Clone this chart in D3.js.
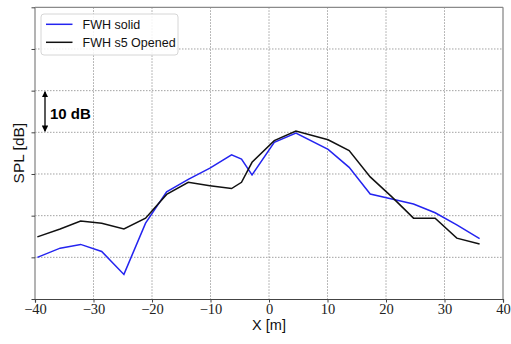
<!DOCTYPE html>
<html><head><meta charset="utf-8">
<script src="https://cdn.jsdelivr.net/npm/d3@7"></script>
<style>body{margin:0;background:#fff}</style>
</head><body>
<svg id="c" width="511" height="344"></svg>
<script>
const xTicks = [-40,-30,-20,-10,0,10,20,30,40];
const yTicks = [0,10,20,30,40,50,60,70];
const xSolid = [-39.6,-35.7,-32.2,-28.6,-24.8,-21.1,-17.5,-13.8,-10.1,-6.4,-4.7,-2.9,0.9,4.6,10.1,13.7,17.3,21.0,24.7,28.4,32.1,36.0];
const ySolid = [10.0,12.2,13.1,11.4,5.9,18.2,25.7,28.7,31.4,34.6,33.6,29.8,37.6,39.8,35.9,31.6,25.2,24.0,22.8,20.7,17.8,14.5];
const xOpened = [-39.6,-35.7,-32.2,-28.6,-24.8,-21.1,-17.5,-13.8,-10.1,-6.4,-4.7,-2.9,0.9,4.6,10.1,13.7,17.3,21.0,24.7,28.4,32.1,36.0];
const yOpened = [14.9,16.8,18.7,18.2,16.8,19.4,25.1,28.0,27.2,26.5,28.0,32.8,38.0,40.3,38.2,35.6,29.3,24.5,19.4,19.4,14.6,13.2];
const seriesNames = ["FWH solid","FWH s5 Opened"];
const seriesColors = ["#2424f0","#111111"];

const svg = d3.select("#c");
const L=35, R=503, T=7.3, B=299;
const x = d3.scaleLinear().domain([-40,40]).range([L,R]);
const y = d3.scaleLinear().domain([0,70]).range([B,T]);

// grid
const g = svg.append("g");
g.selectAll(".vx").data(xTicks.slice(1,-1)).join("line")
  .attr("x1",d=>x(d)).attr("x2",d=>x(d)).attr("y1",T).attr("y2",B)
  .attr("stroke","#999").attr("stroke-width",0.9).attr("stroke-dasharray","1.5,1.5");
g.selectAll(".hy").data(yTicks.slice(1,-1)).join("line")
  .attr("y1",d=>y(d)).attr("y2",d=>y(d)).attr("x1",L).attr("x2",R)
  .attr("stroke","#999").attr("stroke-width",0.9).attr("stroke-dasharray","1.5,1.5");

// spines
svg.append("line").attr("x1",L).attr("x2",R).attr("y1",T).attr("y2",T).attr("stroke","#8a8a8a").attr("stroke-width",1.3);
svg.append("line").attr("x1",R).attr("x2",R).attr("y1",T).attr("y2",B).attr("stroke","#8a8a8a").attr("stroke-width",1.3);
svg.append("line").attr("x1",L).attr("x2",L).attr("y1",T).attr("y2",B).attr("stroke","#8a8a8a").attr("stroke-width",1.3);

// axes
const xAxis = d3.axisBottom(x).tickValues(xTicks).tickSize(3.5).tickFormat(d=>d<0?"\u2212"+Math.abs(d):d);
const gx = svg.append("g").attr("transform",`translate(0,${B})`).call(xAxis);
gx.select(".domain").attr("stroke","#444").attr("stroke-width",1.2);
gx.selectAll(".tick line").attr("stroke","#444");
gx.selectAll("text").attr("font-family","'Liberation Serif', serif").attr("font-size",14.5).attr("fill","#222").attr("dy",null).attr("y",14.5);
const yAxis = d3.axisLeft(y).tickValues(yTicks).tickSize(3.5).tickFormat("");
const gy = svg.append("g").attr("transform",`translate(${L},0)`).call(yAxis);
gy.select(".domain").remove();
gy.selectAll(".tick line").attr("stroke","#444");

// labels
svg.append("text").attr("x",(L+R)/2).attr("y",329.5).attr("text-anchor","middle")
  .attr("font-family","'Liberation Sans', sans-serif").attr("font-size",14.5).attr("fill","#111").text("X [m]");
svg.append("text").attr("transform",`translate(24,${(T+B)/2}) rotate(-90)`).attr("text-anchor","middle")
  .attr("font-family","'Liberation Sans', sans-serif").attr("font-size",15.5).attr("fill","#111").text("SPL [dB]");

// lines
const line = d3.line().x(d=>x(d[0])).y(d=>y(d[1]));
const data = [d3.zip(xSolid,ySolid), d3.zip(xOpened,yOpened)];
svg.selectAll(".ser").data(data).join("path")
  .attr("d",line).attr("fill","none")
  .attr("stroke",(d,i)=>seriesColors[i]).attr("stroke-width",1.5).attr("stroke-linejoin","miter");

// 10 dB arrow
const ax = 45;
svg.append("defs").html('<marker id="ah" viewBox="0 0 10 10" refX="9" refY="5" markerWidth="5" markerHeight="5" orient="auto-start-reverse"><path d="M0,0 L10,5 L0,10 z" fill="#000"/></marker>');
svg.append("line").attr("x1",ax).attr("x2",ax).attr("y1",y(50)+1).attr("y2",y(40)-1)
  .attr("stroke","#000").attr("stroke-width",1.3)
  .attr("marker-start","url(#ah)").attr("marker-end","url(#ah)");
svg.append("text").attr("x",50).attr("y",119).attr("font-family","'Liberation Sans', sans-serif")
  .attr("font-weight","bold").attr("font-size",15).attr("fill","#000").text("10 dB");

// legend
const lg = svg.append("g");
lg.append("rect").attr("x",41).attr("y",14).attr("width",137).attr("height",41).attr("rx",3)
  .attr("fill","#fff").attr("fill-opacity",0.85).attr("stroke","#d6d6d6");
seriesNames.forEach((n,i)=>{
  const yy = 24.3 + i*18;
  lg.append("line").attr("x1",46).attr("x2",72.5).attr("y1",yy).attr("y2",yy)
    .attr("stroke",seriesColors[i]).attr("stroke-width",1.5);
  lg.append("text").attr("x",82.5).attr("y",yy+4.5).attr("font-family","'Liberation Sans', sans-serif")
    .attr("font-size",12.5).attr("fill","#111").text(n);
});
</script>
</body></html>
